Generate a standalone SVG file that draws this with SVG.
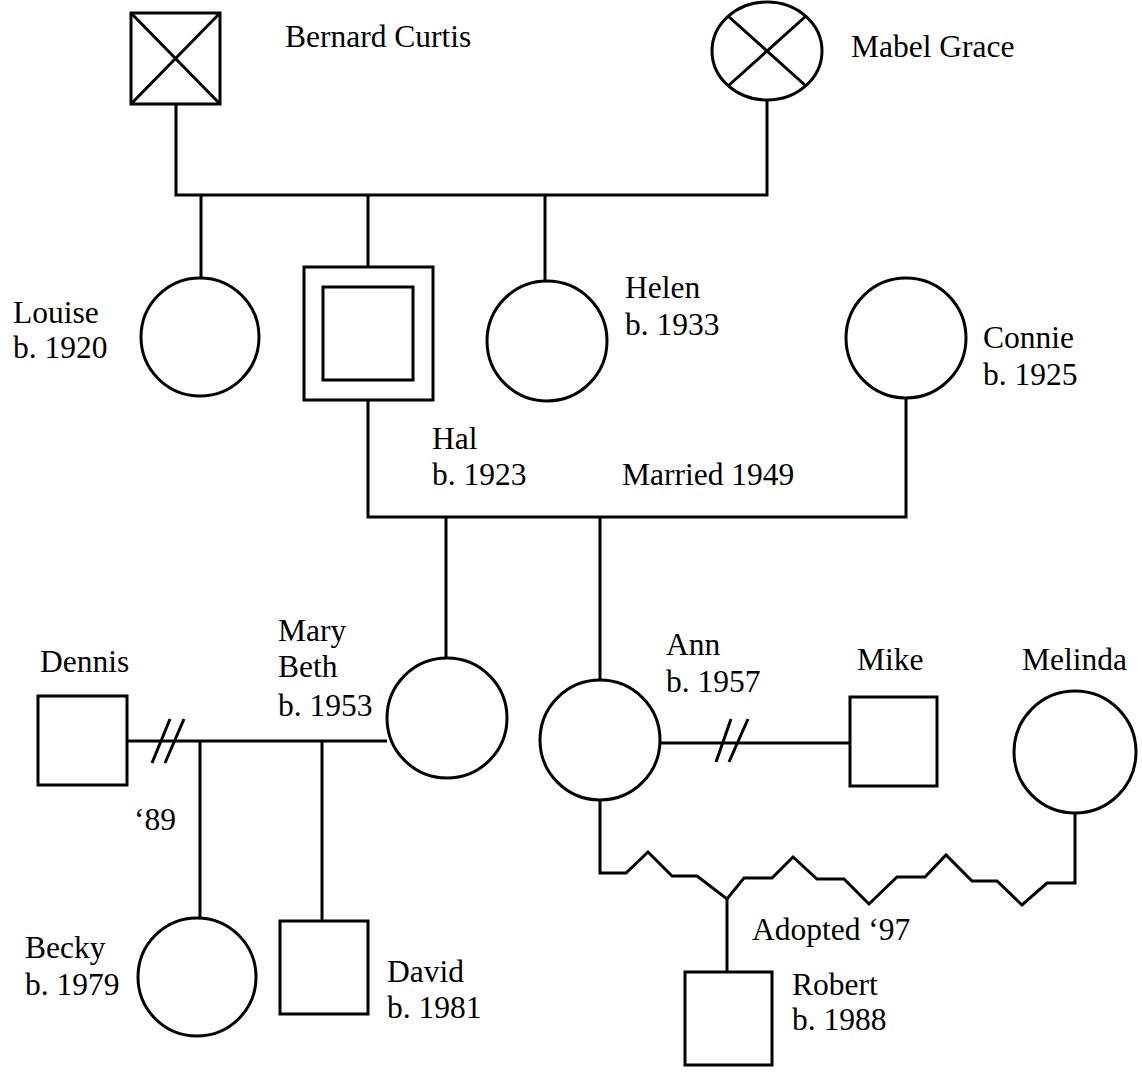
<svg xmlns="http://www.w3.org/2000/svg" width="1142" height="1078" viewBox="0 0 1142 1078">
<style>
.s{fill:none;stroke:#000;stroke-width:3}
.n{fill:#fff;stroke:#000;stroke-width:3}
.t{font-family:"Liberation Serif","Times New Roman",serif;font-size:31.5px;fill:#000}
</style>
<rect width="1142" height="1078" fill="#fff"/>
<g id="connectors" class="s">
<path d="M176,103 V195 H767 V100"/>
<path d="M201,195 V278"/>
<path d="M368,195 V267"/>
<path d="M545,195 V282"/>
<path d="M368,400 V517 H906 V398"/>
<path d="M446,517 V658"/>
<path d="M600,517 V680"/>
<path d="M127,741 H387"/>
<path d="M152,763 L170,719 M165,763 L184,719"/>
<path d="M200,741 V918"/>
<path d="M322,741 V921"/>
<path d="M660,743 H850"/>
<path d="M716,762 L731,719 M729,762 L748,719"/>
<path d="M600,800 V873 H626 L648,852 L672,876 H697 L727,899 L744,878 H772 L793,857 L817,879 H844 L869,904 L897,877 H925 L946,855 L972,881 H997 L1022,905 L1047,883 H1075 V813"/>
<path d="M727,899 V972"/>
</g>
<g id="bernard"><rect class="n" x="131" y="13" width="89" height="91"/><path class="s" d="M131,13 L220,104 M220,13 L131,104"/><text class="t" x="285" y="47">Bernard Curtis</text></g>
<g id="mabel"><ellipse class="n" cx="767" cy="51" rx="55" ry="49"/><path class="s" d="M728,16 L806,86 M806,16 L728,86"/><text class="t" x="851" y="57">Mabel Grace</text></g>
<g id="louise"><circle class="n" cx="200" cy="337" r="59"/><text class="t" x="13" y="323">Louise</text><text class="t" x="13" y="358">b. 1920</text></g>
<g id="hal"><rect class="n" x="304" y="267" width="129" height="133"/><rect class="n" x="323" y="287" width="90" height="93"/><text class="t" x="432" y="449">Hal</text><text class="t" x="432" y="485">b. 1923</text></g>
<g id="helen"><circle class="n" cx="547" cy="341" r="60"/><text class="t" x="625" y="298">Helen</text><text class="t" x="625" y="335">b. 1933</text></g>
<g id="connie"><circle class="n" cx="906" cy="338" r="60"/><text class="t" x="983" y="348">Connie</text><text class="t" x="983" y="385">b. 1925</text></g>
<text class="t" x="622" y="485">Married 1949</text>
<g id="dennis"><rect class="n" x="38" y="696" width="89" height="89"/><text class="t" x="40" y="672">Dennis</text></g>
<text class="t" x="134" y="830">‘89</text>
<g id="marybeth"><circle class="n" cx="447" cy="718" r="60"/><text class="t" x="278" y="641">Mary</text><text class="t" x="278" y="677">Beth</text><text class="t" x="278" y="716">b. 1953</text></g>
<g id="ann"><circle class="n" cx="600" cy="740" r="60"/><text class="t" x="666" y="655">Ann</text><text class="t" x="666" y="692">b. 1957</text></g>
<g id="mike"><rect class="n" x="850" y="697" width="87" height="89"/><text class="t" x="857" y="670">Mike</text></g>
<g id="melinda"><circle class="n" cx="1075" cy="752" r="61"/><text class="t" x="1022" y="670">Melinda</text></g>
<g id="becky"><circle class="n" cx="197" cy="977" r="59"/><text class="t" x="25" y="958">Becky</text><text class="t" x="25" y="995">b. 1979</text></g>
<g id="david"><rect class="n" x="280" y="921" width="88" height="93"/><text class="t" x="387" y="982">David</text><text class="t" x="387" y="1018">b. 1981</text></g>
<text class="t" x="752" y="940">Adopted ‘97</text>
<g id="robert"><rect class="n" x="685" y="972" width="87" height="93"/><text class="t" x="792" y="995">Robert</text><text class="t" x="792" y="1030">b. 1988</text></g>
</svg>
